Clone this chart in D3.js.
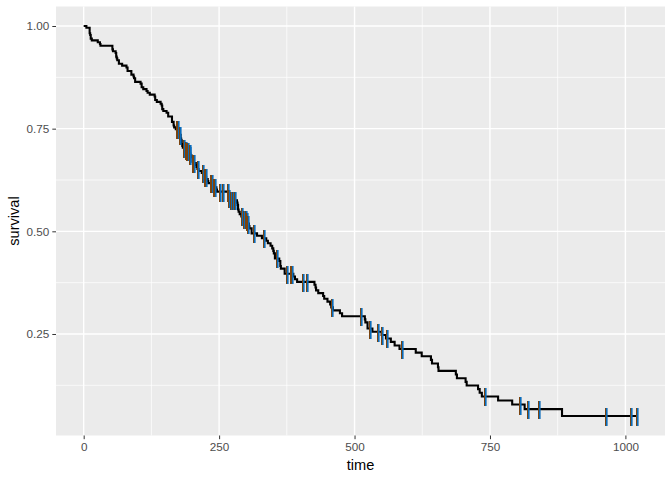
<!DOCTYPE html>
<html>
<head>
<meta charset="utf-8">
<script src="https://cdn.jsdelivr.net/npm/d3@7"></script>
<style>
  html, body { margin: 0; padding: 0; background: #ffffff; }
  svg { display: block; font-family: "Liberation Sans", Arial, sans-serif; }
</style>
</head>
<body>
<svg id="chart" width="672" height="480"></svg>
<script>
// Kaplan-Meier step data (event times and survival after each event)
const eventTimes = [0,5,11,12,13,15,26,30,31,53,54,59,60,61,62,65,71,79,81,88,92,93,95,105,107,110,116,118,122,131,132,135,142,144,145,147,153,156,163,166,167,170,175,176,177,179,180,181,182,183,186,189,194,197,199,201,202,207,208,210,212,218,222,223,226,229,230,239,245,246,267,268,269,270,283,284,285,286,288,291,293,301,303,305,306,310,320,329,337,340,345,348,350,351,353,361,363,364,371,387,390,394,426,428,429,433,442,444,450,455,457,460,473,477,519,520,524,533,550,558,567,574,583,613,624,641,643,654,655,687,689,705,707,728,731,735,765,791,814,883,1022];
const survival = [1,0.9956,0.9825,0.9781,0.9693,0.9649,0.9605,0.9561,0.9518,0.9430,0.9386,0.9342,0.9254,0.9211,0.9167,0.9079,0.9035,0.8991,0.8904,0.8816,0.8772,0.8728,0.8640,0.8596,0.8507,0.8463,0.8418,0.8374,0.8330,0.8285,0.8197,0.8153,0.8108,0.8064,0.7975,0.7931,0.7887,0.7798,0.7665,0.7577,0.7532,0.7488,0.7443,0.7398,0.7353,0.7262,0.7217,0.7126,0.7081,0.7035,0.6990,0.6944,0.6897,0.6850,0.6803,0.6709,0.6662,0.6614,0.6566,0.6518,0.6470,0.6421,0.6373,0.6324,0.6274,0.6224,0.6174,0.6072,0.6020,0.5968,0.5915,0.5861,0.5808,0.5754,0.5699,0.5644,0.5532,0.5476,0.5420,0.5364,0.5307,0.5249,0.5190,0.5130,0.5071,0.4951,0.4891,0.4830,0.4769,0.4708,0.4647,0.4585,0.4524,0.4463,0.4340,0.4278,0.4154,0.4092,0.3966,0.3900,0.3834,0.3768,0.3700,0.3631,0.3563,0.3494,0.3426,0.3357,0.3287,0.3217,0.3147,0.3076,0.3004,0.2933,0.2857,0.2782,0.2632,0.2554,0.2475,0.2392,0.2307,0.2221,0.2136,0.2047,0.1958,0.1869,0.1780,0.1691,0.1602,0.1513,0.1424,0.1335,0.1246,0.1157,0.1068,0.0979,0.0881,0.0783,0.0671,0.0503,0.0503];
// Censoring times
const censorTimes = [173,174,177,185,188,191,192,196,197,202,203,211,221,224,225,235,237,240,243,252,258,266,269,272,276,279,292,296,300,301,303,315,332,356,376,382,384,404,413,458,511,529,543,551,559,588,740,806,821,840,965,1010,1022];
// Axis ticks
const xTicks = [0, 250, 500, 750, 1000];
const xMinor = [125, 375, 625, 875];
const yTicks = [0.25, 0.50, 0.75, 1.00];
const yMinor = [0.125, 0.375, 0.625, 0.875];
const xTitle = "time";
const yTitle = "survival";

const svg = d3.select("#chart");
const panel = { left: 56, right: 665, top: 6.5, bottom: 435.5 };

const xMax = d3.max(eventTimes), xMin = 0;
const xPad = (xMax - xMin) * 0.05;
const yMin = d3.min(survival), yMax = 1;
const yPad = (yMax - yMin) * 0.05;

const x = d3.scaleLinear().domain([xMin - xPad, xMax + xPad]).range([panel.left, panel.right]);
const y = d3.scaleLinear().domain([yMin - yPad, yMax + yPad]).range([panel.bottom, panel.top]);

// panel background
svg.append("rect")
  .attr("x", panel.left).attr("y", panel.top)
  .attr("width", panel.right - panel.left).attr("height", panel.bottom - panel.top)
  .attr("fill", "#EBEBEB");

const grid = svg.append("g");
grid.selectAll(".xminor").data(xMinor).join("line")
  .attr("x1", d => x(d)).attr("x2", d => x(d))
  .attr("y1", panel.top).attr("y2", panel.bottom)
  .attr("stroke", "#fff").attr("stroke-width", 0.7);
grid.selectAll(".yminor").data(yMinor).join("line")
  .attr("y1", d => y(d)).attr("y2", d => y(d))
  .attr("x1", panel.left).attr("x2", panel.right)
  .attr("stroke", "#fff").attr("stroke-width", 0.7);
grid.selectAll(".xmajor").data(xTicks).join("line")
  .attr("x1", d => x(d)).attr("x2", d => x(d))
  .attr("y1", panel.top).attr("y2", panel.bottom)
  .attr("stroke", "#fff").attr("stroke-width", 1.4);
grid.selectAll(".ymajor").data(yTicks).join("line")
  .attr("y1", d => y(d)).attr("y2", d => y(d))
  .attr("x1", panel.left).attr("x2", panel.right)
  .attr("stroke", "#fff").attr("stroke-width", 1.4);

// KM step curve
const pts = eventTimes.map((t, i) => [t, survival[i]]);
const line = d3.line().x(d => x(d[0])).y(d => y(d[1])).curve(d3.curveStepAfter);
svg.append("path").datum(pts)
  .attr("d", line)
  .attr("fill", "none").attr("stroke", "#000").attr("stroke-width", 2.1);

// censor marks
const bis = d3.bisector(d => d).right;
function survAt(t) {
  const i = bis(eventTimes, t) - 1;
  return survival[Math.max(0, i)];
}
const cm = svg.append("g");
censorTimes.forEach(t => {
  const cx = Math.round(x(t)), cy = Math.round(y(survAt(t)));
  cm.append("rect").attr("x", cx - 1).attr("y", cy - 8)
    .attr("width", 1).attr("height", 18)
    .attr("fill", "#7a4410");
  cm.append("rect").attr("x", cx).attr("y", cy - 8)
    .attr("width", 1.6).attr("height", 18)
    .attr("fill", "#0a6cbc");
});

// axes
const xAxis = d3.axisBottom(x).tickValues(xTicks).tickFormat(d3.format("d")).tickSize(3.7).tickPadding(3);
const yAxis = d3.axisLeft(y).tickValues(yTicks).tickFormat(d3.format(".2f")).tickSize(3.7).tickPadding(3);

const gx = svg.append("g").attr("transform", `translate(0,${panel.bottom})`).call(xAxis);
const gy = svg.append("g").attr("transform", `translate(${panel.left},0)`).call(yAxis);
[gx, gy].forEach(g => {
  g.select(".domain").remove();
  g.selectAll(".tick line").attr("stroke", "#333333").attr("stroke-width", 1);
  g.selectAll(".tick text").attr("fill", "#4D4D4D")
    .style("font-size", "11.7px").style("font-family", "'Liberation Sans', Arial, sans-serif");
});

svg.append("text")
  .attr("x", (panel.left + panel.right) / 2).attr("y", 470)
  .attr("text-anchor", "middle")
  .style("font-size", "14.6px").attr("fill", "#000")
  .text(xTitle);
svg.append("text")
  .attr("transform", `translate(19,${(panel.top + panel.bottom) / 2}) rotate(-90)`)
  .attr("text-anchor", "middle")
  .style("font-size", "14.6px").attr("fill", "#000")
  .text(yTitle);
</script>
</body>
</html>
